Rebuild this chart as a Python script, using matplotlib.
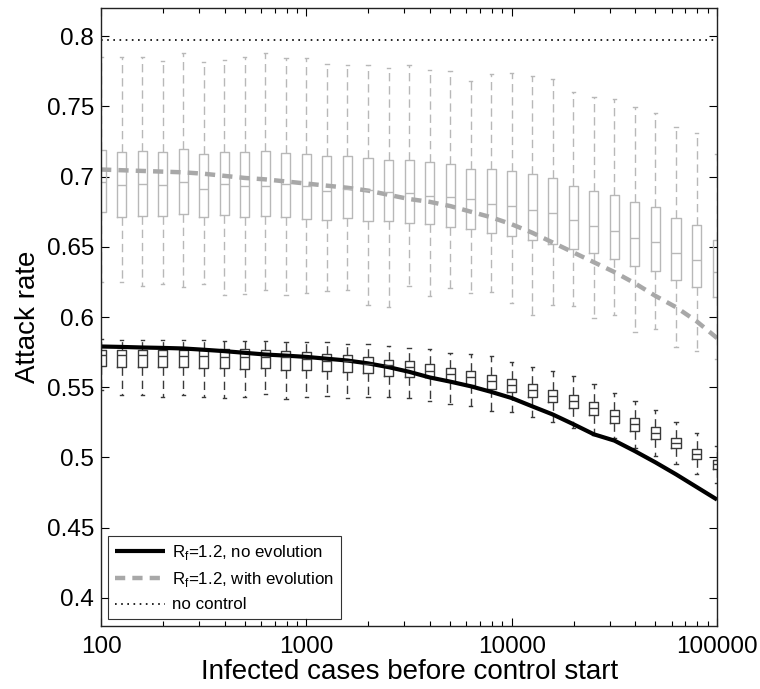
import numpy as np
import matplotlib
matplotlib.use("Agg")
import matplotlib.pyplot as plt

plt.rcParams['font.family'] = ['Liberation Sans', 'DejaVu Sans']

# infected cases before control start: 10^(2 + 0.1 k), k = 0..30
log_cases = np.round(np.arange(2.0, 5.0001, 0.1), 1)

# R_f = 1.2 with evolution (grey boxes): whisker low, q1, median, q3, whisker high
evo_wlo = [0.6246, 0.6246, 0.6222, 0.6238, 0.6214, 0.6238, 0.6160, 0.6162, 0.6191, 0.6160, 0.6174,
           0.6184, 0.6195, 0.6086, 0.6072, 0.6222, 0.6148, 0.6207, 0.6172, 0.6176, 0.6098,
           0.6012, 0.6086, 0.6081, 0.5993, 0.6014, 0.5893, 0.5912, 0.5785, 0.5757, 0.5700]
evo_q1 = [0.6746, 0.6715, 0.6720, 0.6722, 0.6734, 0.6713, 0.6727, 0.6715, 0.6717, 0.6713, 0.6701,
          0.6694, 0.6708, 0.6687, 0.6684, 0.6672, 0.6665, 0.6641, 0.6629, 0.6598, 0.6577,
          0.6548, 0.6520, 0.6481, 0.6455, 0.6410, 0.6361, 0.6329, 0.6262, 0.6212, 0.6143]
evo_med = [0.6961, 0.6937, 0.6949, 0.6937, 0.6958, 0.6908, 0.6944, 0.6932, 0.6930, 0.6944, 0.6930,
           0.6899, 0.6911, 0.6906, 0.6892, 0.6884, 0.6865, 0.6853, 0.6839, 0.6806, 0.6791,
           0.6765, 0.6741, 0.6694, 0.6648, 0.6615, 0.6563, 0.6536, 0.6455, 0.6408, 0.6320]
evo_q3 = [0.7192, 0.7175, 0.7180, 0.7175, 0.7199, 0.7158, 0.7173, 0.7173, 0.7182, 0.7170, 0.7161,
          0.7144, 0.7149, 0.7135, 0.7120, 0.7120, 0.7101, 0.7089, 0.7056, 0.7054, 0.7042,
          0.7020, 0.6992, 0.6930, 0.6899, 0.6868, 0.6817, 0.6782, 0.6703, 0.6656, 0.6551]
evo_whi = [0.7854, 0.7854, 0.7854, 0.7826, 0.7883, 0.7816, 0.7833, 0.7850, 0.7878, 0.7845, 0.7845,
           0.7804, 0.7797, 0.7792, 0.7776, 0.7792, 0.7759, 0.7754, 0.7680, 0.7728, 0.7740,
           0.7714, 0.7692, 0.7604, 0.7564, 0.7554, 0.7497, 0.7449, 0.7354, 0.7313, 0.7160]

# R_f = 1.2 without evolution (dark boxes)
noevo_wlo = [0.5483, 0.5442, 0.5442, 0.5433, 0.5442, 0.5433, 0.5423, 0.5428, 0.5449, 0.5418, 0.5428,
             0.5435, 0.5425, 0.5428, 0.5428, 0.5423, 0.5399, 0.5380, 0.5364, 0.5328, 0.5321,
             0.5285, 0.5256, 0.5211, 0.5161, 0.5137, 0.5070, 0.5011, 0.4956, 0.4882, 0.4816]
noevo_q1 = [0.5654, 0.5647, 0.5647, 0.5643, 0.5645, 0.5638, 0.5635, 0.5633, 0.5638, 0.5623, 0.5621,
            0.5619, 0.5607, 0.5602, 0.5583, 0.5576, 0.5571, 0.5547, 0.5518, 0.5485, 0.5466,
            0.5428, 0.5392, 0.5352, 0.5302, 0.5247, 0.5192, 0.5132, 0.5066, 0.4989, 0.4918]
noevo_med = [0.5726, 0.5726, 0.5726, 0.5719, 0.5721, 0.5719, 0.5716, 0.5712, 0.5712, 0.5714, 0.5704,
             0.5690, 0.5685, 0.5669, 0.5659, 0.5643, 0.5619, 0.5597, 0.5571, 0.5547, 0.5516,
             0.5483, 0.5440, 0.5399, 0.5352, 0.5294, 0.5235, 0.5173, 0.5104, 0.5028, 0.4951]
noevo_q3 = [0.5762, 0.5764, 0.5764, 0.5762, 0.5762, 0.5766, 0.5773, 0.5769, 0.5762, 0.5757, 0.5750,
            0.5740, 0.5731, 0.5716, 0.5697, 0.5685, 0.5666, 0.5638, 0.5614, 0.5588, 0.5559,
            0.5523, 0.5483, 0.5442, 0.5395, 0.5335, 0.5278, 0.5216, 0.5142, 0.5063, 0.4982]
noevo_whi = [0.5840, 0.5838, 0.5838, 0.5838, 0.5833, 0.5833, 0.5829, 0.5829, 0.5829, 0.5824, 0.5819,
             0.5819, 0.5807, 0.5809, 0.5795, 0.5781, 0.5771, 0.5743, 0.5738, 0.5721, 0.5681,
             0.5647, 0.5619, 0.5580, 0.5526, 0.5461, 0.5399, 0.5335, 0.5252, 0.5173, 0.5085]

# deterministic curves
line_noevo = [0.5790, 0.5787, 0.5783, 0.5780, 0.5776, 0.5767, 0.5757, 0.5745, 0.5733, 0.5725, 0.5716,
              0.5703, 0.5690, 0.5670, 0.5643, 0.5610, 0.5570, 0.5540, 0.5507, 0.5467, 0.5423,
              0.5364, 0.5306, 0.5237, 0.5165, 0.5120, 0.5045, 0.4965, 0.4880, 0.4790, 0.4700]
line_evo = [0.705, 0.7045, 0.704, 0.7035, 0.703, 0.702, 0.7005, 0.699, 0.698, 0.6965, 0.695,
            0.6935, 0.692, 0.690, 0.687, 0.684, 0.682, 0.679, 0.675, 0.671, 0.666,
            0.660, 0.653, 0.646, 0.639, 0.632, 0.624, 0.615, 0.607, 0.597, 0.585]
no_control = 0.797


def box_stats(wlo, q1, med, q3, whi):
    return [dict(whislo=a, q1=b, med=c, q3=d, whishi=e, fliers=[])
            for a, b, c, d, e in zip(wlo, q1, med, q3, whi)]


fig = plt.figure(figsize=(7.6, 6.89), dpi=100)
ax = fig.add_axes([0.133, 0.0914, 0.8105, 0.897])

grey = '#b8b8b8'
dark = '#3a3a3a'
for stats, col in [(box_stats(evo_wlo, evo_q1, evo_med, evo_q3, evo_whi), grey),
                   (box_stats(noevo_wlo, noevo_q1, noevo_med, noevo_q3, noevo_whi), dark)]:
    ax.bxp(stats, positions=log_cases, widths=0.044, capwidths=0.016,
           showfliers=False, manage_ticks=False,
           boxprops=dict(color=col, linewidth=1.0),
           medianprops=dict(color=col, linewidth=1.0),
           whiskerprops=dict(color=col, linewidth=1.0, linestyle=(0, (6, 3.5))),
           capprops=dict(color=col, linewidth=1.0))

ax.plot(log_cases, line_noevo, color='black', linewidth=3.0, solid_capstyle='butt',
        label=r'R$_\mathregular{f}$=1.2, no evolution')
ax.plot(log_cases, line_evo, color='#a8a8a8', linewidth=3.2, linestyle=(0, (2.3, 1.6)),
        label=r'R$_\mathregular{f}$=1.2, with evolution')
ax.axhline(no_control, color='black', linewidth=1.2, linestyle=(0, (1, 2.7)),
           label='no control')

ax.set_xlim(2, 5)
ax.set_ylim(0.38, 0.82)
ax.set_xticks([2, 3, 4, 5])
ax.set_xticklabels(['100', '1000', '10000', '100000'])
minor = [np.log10(m * 10 ** e) for e in range(2, 5) for m in range(2, 10)]
ax.set_xticks(minor, minor=True)
yt = [0.4, 0.45, 0.5, 0.55, 0.6, 0.65, 0.7, 0.75, 0.8]
ax.set_yticks(yt)
ax.set_yticklabels(['%g' % v for v in yt])
ax.tick_params(which='both', direction='in', top=True, right=True, labelsize=17.5)
ax.tick_params(which='major', length=6, width=0.8)
ax.tick_params(which='minor', length=3.5, width=0.8)
ax.tick_params(axis='x', pad=7)
ax.tick_params(axis='y', pad=5)
for s in ax.spines.values():
    s.set_linewidth(1.0)
    s.set_color('#222222')

ax.set_xlabel('Infected cases before control start', fontsize=20, labelpad=1)
ax.set_ylabel('Attack rate', fontsize=20, labelpad=4)

leg = ax.legend(loc='lower left', fontsize=12.2, frameon=True, fancybox=False,
                borderaxespad=0.4, handlelength=3.0, labelspacing=0.5, handletextpad=0.4)
leg.get_frame().set_edgecolor('black')
leg.get_frame().set_linewidth(0.8)

fig.savefig('out.png', dpi=100)
